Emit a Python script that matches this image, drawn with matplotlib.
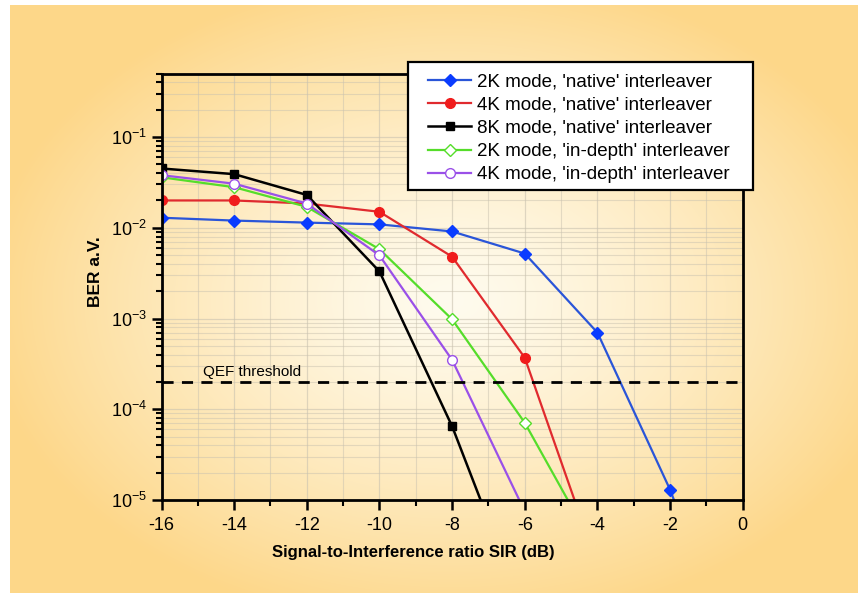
import numpy as np
import matplotlib
matplotlib.use("Agg")
import matplotlib.pyplot as plt
from matplotlib.ticker import LogLocator, MultipleLocator, NullFormatter
from matplotlib.patches import Rectangle

plt.rcParams['font.family'] = ['Liberation Sans', 'DejaVu Sans']
plt.rcParams['axes.unicode_minus'] = False

# ---- data ----
sir = [-16, -14, -12, -10, -8, -6, -4, -2, 0]
ber_2k_native = [0.0129, 0.0120, 0.0114, 0.0109, 0.0091, 0.0052, 7.0e-4, 1.3e-5, 1e-7]
sir_4k_native = [-16, -14, -12, -10, -8, -6, -4]
ber_4k_native = [0.020, 0.020, 0.0185, 0.0150, 4.8e-3, 3.7e-4, 1.9e-6]
sir_8k_native = [-16, -14, -12, -10, -8, -6]
ber_8k_native = [0.045, 0.039, 0.023, 3.3e-3, 6.5e-5, 5.5e-7]
sir_2k_depth = [-16, -14, -12, -10, -8, -6, -4]
ber_2k_depth = [0.036, 0.028, 0.017, 5.8e-3, 9.8e-4, 7.1e-5, 2.6e-6]
sir_4k_depth = [-16, -14, -12, -10, -8, -6]
ber_4k_depth = [0.038, 0.0306, 0.0185, 4.96e-3, 3.5e-4, 7.5e-6]
qef_threshold = 2e-4

labels = ["2K mode, 'native' interleaver",
          "4K mode, 'native' interleaver",
          "8K mode, 'native' interleaver",
          "2K mode, 'in-depth' interleaver",
          "4K mode, 'in-depth' interleaver"]

W, H = 858, 593
fig = plt.figure(figsize=(W / 100, H / 100), dpi=100)
fig.patch.set_facecolor('white')

# ---- background radial gradient ----
bg = fig.add_axes([0, 0, 1, 1], zorder=-10)
bg.set_axis_off()
yy, xx = np.mgrid[0:H, 0:W]
t = np.sqrt(((xx - 450) / 470.0) ** 2 + ((yy - 300) / 330.0) ** 2)
t = np.clip(t, 0, 1) ** 1.3
c0 = np.array([255, 251, 238]) / 255.0
c1 = np.array([253, 215, 137]) / 255.0
img = c0[None, None, :] * (1 - t[..., None]) + c1[None, None, :] * t[..., None]
mask = (xx < 10) | (yy < 5)
img[mask] = 1.0
bg.imshow(img, extent=[0, 1, 0, 1], aspect='auto', interpolation='bilinear')
bg.set_xlim(0, 1)
bg.set_ylim(0, 1)

# ---- main axes ----
ax = fig.add_axes([161.5 / W, 1 - 500 / H, (742.7 - 161.5) / W, (500 - 73.6) / H])
ax.set_facecolor('none')
ax.set_yscale('log')
ax.set_xlim(-16, 0)
ax.set_ylim(1e-5, 0.5)

ax.plot(sir, ber_2k_native, '-D', color='#2a55d8', mfc='#0a3cff', mec='#0a3cff',
        ms=6.5, lw=1.6, label=labels[0])
ax.plot(sir_4k_native, ber_4k_native, '-o', color='#e02a2e', mfc='#f01c1c', mec='#f01c1c',
        ms=7, lw=1.6, label=labels[1])
ax.plot(sir_8k_native, ber_8k_native, '-s', color='black', mfc='black', mec='black',
        ms=6, lw=1.8, label=labels[2])
ax.plot(sir_2k_depth, ber_2k_depth, '-D', color='#55dd2a', mfc='white', mec='#55dd2a',
        ms=6.5, lw=1.6, label=labels[3])
ax.plot(sir_4k_depth, ber_4k_depth, '-o', color='#9a50e8', mfc='white', mec='#9a50e8',
        ms=7, lw=1.6, label=labels[4])

ax.axhline(qef_threshold, color='black', ls=(0, (4, 3)), lw=2)
ax.text(-14.85, qef_threshold * 1.07, 'QEF threshold', fontsize=11, ha='left', va='bottom')

# ticks
ax.xaxis.set_major_locator(MultipleLocator(2))
ax.xaxis.set_minor_locator(MultipleLocator(1))
ax.yaxis.set_major_locator(LogLocator(base=10, numticks=10))
ax.yaxis.set_minor_locator(LogLocator(base=10, subs=np.arange(2, 10), numticks=20))
ax.yaxis.set_minor_formatter(NullFormatter())
ax.tick_params(axis='both', which='major', direction='out', length=7, width=1.8,
               labelsize=13, top=False, right=False)
ax.tick_params(axis='both', which='minor', direction='out', length=4, width=1.5,
               top=False, right=False)
ax.tick_params(axis='x', pad=5)

for s in ax.spines.values():
    s.set_linewidth(2)
    s.set_color('black')

ax.grid(True, which='major', color='#c9c2b0', lw=0.9, alpha=0.6)
ax.grid(True, which='minor', color='#c9c2b0', lw=0.8, alpha=0.5)
ax.set_axisbelow(True)

ax.set_xlabel('Signal-to-Interference ratio SIR (dB)', fontsize=12, fontweight='bold')
ax.xaxis.set_label_coords((413.5 - 161.5) / 581.2, (500 - 545) / 426.4)
ax.set_ylabel('BER a.V.', fontsize=12.5, fontweight='bold')
ax.yaxis.set_label_coords((103 - 161.5) / 581.2, 0.535)

# legend box (frame drawn as a rectangle matching the reference)
box = Rectangle((408 / W, 1 - 190 / H), (753 - 408) / W, (190 - 62) / H,
                transform=fig.transFigure, facecolor='white', edgecolor='black',
                lw=1.6, zorder=9, clip_on=False)
ax.add_artist(box)
leg = ax.legend(loc='upper left',
                bbox_to_anchor=((428 - 161.5) / 581.2, 1 + (73.6 - 73) / 426.4),
                fontsize=13.5, frameon=False,
                handlelength=2.3, handletextpad=0.3, borderpad=0.0, labelspacing=0.33,
                borderaxespad=0)
leg.set_zorder(10)

fig.savefig('out.png', dpi=100, facecolor=fig.get_facecolor())
